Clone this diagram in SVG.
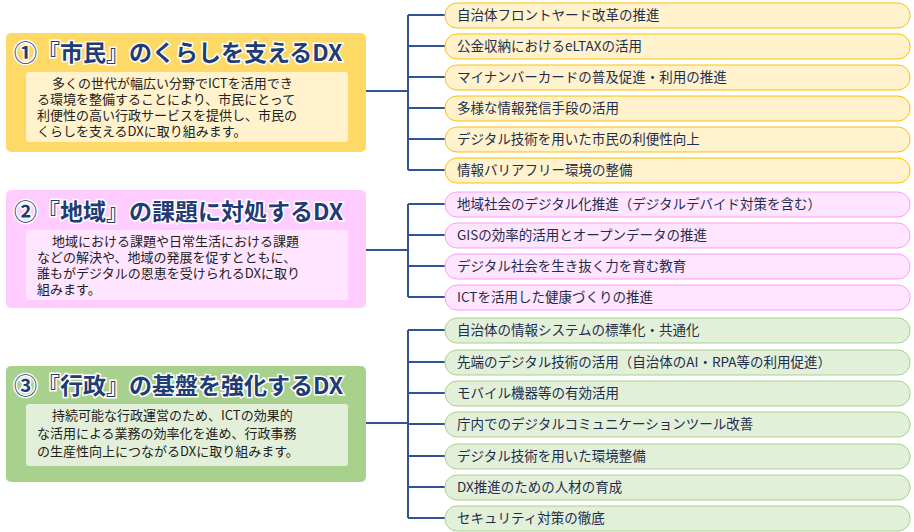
<svg xmlns="http://www.w3.org/2000/svg" width="914" height="532" viewBox="0 0 914 532">
<style>
text{font-family:"Noto Sans CJK JP","Noto Sans",sans-serif}
.t{font-size:23px;font-weight:bold;fill:#1f3c74;stroke:#fff;stroke-width:3;paint-order:stroke}
.b{font-size:13px;fill:#222}
.i{font-size:13.5px;fill:#1f2d4d}
.c{stroke:#2f5597;stroke-width:2;fill:none}
.y{fill:#fff2cc;stroke:#ffc000}
.p{fill:#ffe5ff;stroke:#ff99ff}
.g{fill:#e2f0d9;stroke:#a9d18e}
</style>
<g id="connectors" class="c">
<path d="M366 91H408M408 15V170M408 15H445M408 46H445M408 77H445M408 108H445M408 139H445M408 170H445"/>
<path d="M366 250H408M408 204V297M408 204H445M408 235H445M408 266H445M408 297H445"/>
<path d="M366 423H408M408 330V518M408 330H445M408 362H445M408 393H445M408 424H445M408 456H445M408 487H445M408 518H445"/>
</g>
<g id="g1">
<rect x="6" y="33" width="360" height="119" rx="5" fill="#ffd966"/>
<text class="t" x="14" y="61">①『市民』のくらしを支えるDX</text>
<rect x="26" y="72" width="322" height="70" rx="3" fill="#fff2cc"/>
<text class="b"><tspan x="52" y="88">多くの世代が幅広い分野でICTを活用でき</tspan><tspan x="37" y="104">る環境を整備することにより、市民にとって</tspan><tspan x="37" y="120">利便性の高い行政サービスを提供し、市民の</tspan><tspan x="37" y="136">くらしを支えるDXに取り組みます。</tspan></text>
</g>
<g id="g2">
<rect x="6" y="190" width="360" height="118" rx="5" fill="#ffccff"/>
<text class="t" x="14" y="220">②『地域』の課題に対処するDX</text>
<rect x="26" y="230" width="322" height="70" rx="3" fill="#ffe5ff"/>
<text class="b"><tspan x="52" y="246">地域における課題や日常生活における課題</tspan><tspan x="37" y="262">などの解決や、地域の発展を促すとともに、</tspan><tspan x="37" y="278">誰もがデジタルの恩恵を受けられるDXに取り</tspan><tspan x="37" y="294">組みます。</tspan></text>
</g>
<g id="g3">
<rect x="6" y="366" width="360" height="116" rx="5" fill="#a9d18e"/>
<text class="t" x="14" y="394">③『行政』の基盤を強化するDX</text>
<rect x="26" y="404" width="322" height="62" rx="3" fill="#e2f0d9"/>
<text class="b"><tspan x="52" y="420">持続可能な行政運営のため、ICTの効果的</tspan><tspan x="37" y="438">な活用による業務の効率化を進め、行政事務</tspan><tspan x="37" y="456">の生産性向上につながるDXに取り組みます。</tspan></text>
</g>
<g id="items1">
<rect class="y" x="445" y="3" width="465" height="25" rx="12"/><text class="i" x="457" y="20">自治体フロントヤード改革の推進</text>
<rect class="y" x="445" y="34" width="465" height="25" rx="12"/><text class="i" x="457" y="51">公金収納におけるeLTAXの活用</text>
<rect class="y" x="445" y="65" width="465" height="25" rx="12"/><text class="i" x="457" y="82">マイナンバーカードの普及促進・利用の推進</text>
<rect class="y" x="445" y="96" width="465" height="25" rx="12"/><text class="i" x="457" y="113">多様な情報発信手段の活用</text>
<rect class="y" x="445" y="127" width="465" height="25" rx="12"/><text class="i" x="457" y="144">デジタル技術を用いた市民の利便性向上</text>
<rect class="y" x="445" y="158" width="465" height="25" rx="12"/><text class="i" x="457" y="175">情報バリアフリー環境の整備</text>
</g>
<g id="items2">
<rect class="p" x="445" y="192" width="465" height="25" rx="12"/><text class="i" x="457" y="209">地域社会のデジタル化推進（デジタルデバイド対策を含む）</text>
<rect class="p" x="445" y="223" width="465" height="25" rx="12"/><text class="i" x="457" y="240">GISの効率的活用とオープンデータの推進</text>
<rect class="p" x="445" y="254" width="465" height="25" rx="12"/><text class="i" x="457" y="271">デジタル社会を生き抜く力を育む教育</text>
<rect class="p" x="445" y="285" width="465" height="25" rx="12"/><text class="i" x="457" y="302">ICTを活用した健康づくりの推進</text>
</g>
<g id="items3">
<rect class="g" x="445" y="318" width="465" height="25" rx="12"/><text class="i" x="457" y="335">自治体の情報システムの標準化・共通化</text>
<rect class="g" x="445" y="350" width="465" height="25" rx="12"/><text class="i" x="457" y="367">先端のデジタル技術の活用（自治体のAI・RPA等の利用促進）</text>
<rect class="g" x="445" y="381" width="465" height="25" rx="12"/><text class="i" x="457" y="398">モバイル機器等の有効活用</text>
<rect class="g" x="445" y="412" width="465" height="25" rx="12"/><text class="i" x="457" y="429">庁内でのデジタルコミュニケーションツール改善</text>
<rect class="g" x="445" y="444" width="465" height="25" rx="12"/><text class="i" x="457" y="461">デジタル技術を用いた環境整備</text>
<rect class="g" x="445" y="475" width="465" height="25" rx="12"/><text class="i" x="457" y="492">DX推進のための人材の育成</text>
<rect class="g" x="445" y="506" width="465" height="25" rx="12"/><text class="i" x="457" y="523">セキュリティ対策の徹底</text>
</g>
</svg>
